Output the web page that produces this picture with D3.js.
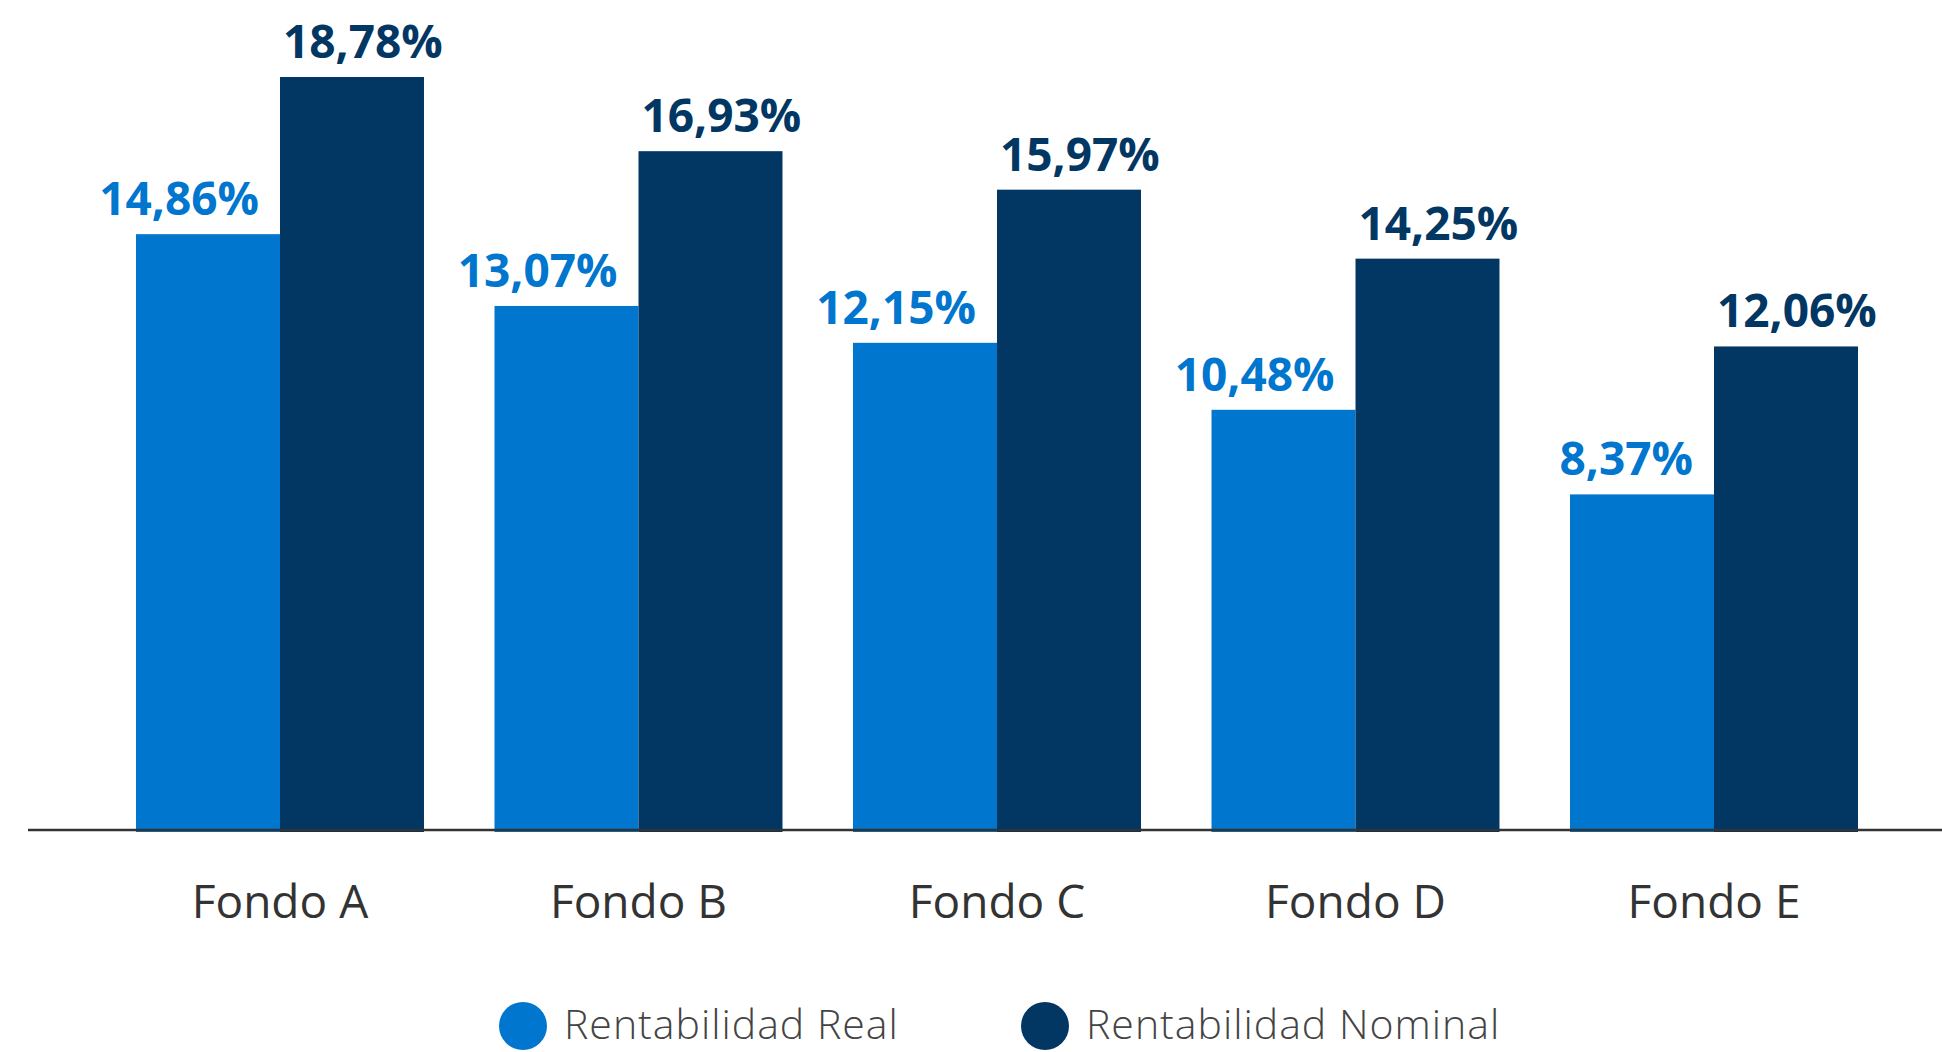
<!DOCTYPE html>
<html>
<head>
<meta charset="utf-8">
<script src="https://cdn.jsdelivr.net/npm/d3@7"></script>
<style>
  html, body { margin: 0; padding: 0; background: #fff; }
  svg { display: block; font-family: "Open Sans", "Noto Sans", sans-serif; }
</style>
</head>
<body>
<div id="container"></div>
<script>
var categories = ["Fondo A", "Fondo B", "Fondo C", "Fondo D", "Fondo E"];
var realValues = [14.86, 13.07, 12.15, 10.48, 8.37];
var nominalValues = [18.78, 16.93, 15.97, 14.25, 12.06];
var seriesNames = ["Rentabilidad Real", "Rentabilidad Nominal"];

var colors = ["#0076ce", "#023764"];
var width = 1942, height = 1052;

var svg = d3.select("#container").append("svg")
  .attr("width", width).attr("height", height);

var x = d3.scaleBand()
  .domain(categories)
  .range([136, 1858])
  .paddingInner(0.1967)
  .paddingOuter(0);

var sub = d3.scaleBand()
  .domain([0, 1])
  .range([0, x.bandwidth()]);

var y = d3.scaleLinear()
  .domain([0, 18.78])
  .range([830, 77]);

var fmt = function(v) { return d3.format(".2f")(v).replace(".", ",") + "%"; };

var series = [realValues, nominalValues];

series.forEach(function(vals, s) {
  var g = svg.append("g");
  g.selectAll("rect")
    .data(vals)
    .enter().append("rect")
    .attr("x", function(d, i) { return x(categories[i]) + sub(s); })
    .attr("y", function(d) { return y(d); })
    .attr("width", sub.bandwidth())
    .attr("height", function(d) { return y(0) - y(d) + 2; })
    .attr("fill", colors[s]);

  g.selectAll("text")
    .data(vals)
    .enter().append("text")
    .attr("x", function(d, i) {
      var c = x(categories[i]) + x.bandwidth() / 2;
      return s === 0 ? c - 21 : c + 3;
    })
    .attr("y", function(d) { return y(d) - 19; })
    .attr("text-anchor", s === 0 ? "end" : "start")
    .attr("font-size", 46)
    .attr("font-weight", 700)
    .attr("fill", colors[s])
    .text(fmt);
});

// baseline
svg.append("line")
  .attr("x1", 28).attr("x2", width)
  .attr("y1", y(0)).attr("y2", y(0))
  .attr("stroke", "#333").attr("stroke-width", 2.5);

// category labels
svg.append("g").selectAll("text")
  .data(categories)
  .enter().append("text")
  .attr("x", function(d) { return x(d) + x.bandwidth() / 2; })
  .attr("y", 918)
  .attr("text-anchor", "middle")
  .attr("font-size", 46)
  .attr("fill", "#333")
  .text(function(d) { return d; });

// legend
var legendX = [523, 1045];
var legend = svg.append("g").selectAll("g")
  .data(seriesNames)
  .enter().append("g")
  .attr("transform", function(d, i) { return "translate(" + legendX[i] + ",1026)"; });

legend.append("circle")
  .attr("r", 24)
  .attr("fill", function(d, i) { return colors[i]; });

legend.append("text")
  .attr("x", 41)
  .attr("y", 13)
  .attr("font-size", 41)
  .attr("font-weight", 300)
  .attr("letter-spacing", 1)
  .attr("fill", "#444")
  .text(function(d) { return d; });
</script>
</body>
</html>
